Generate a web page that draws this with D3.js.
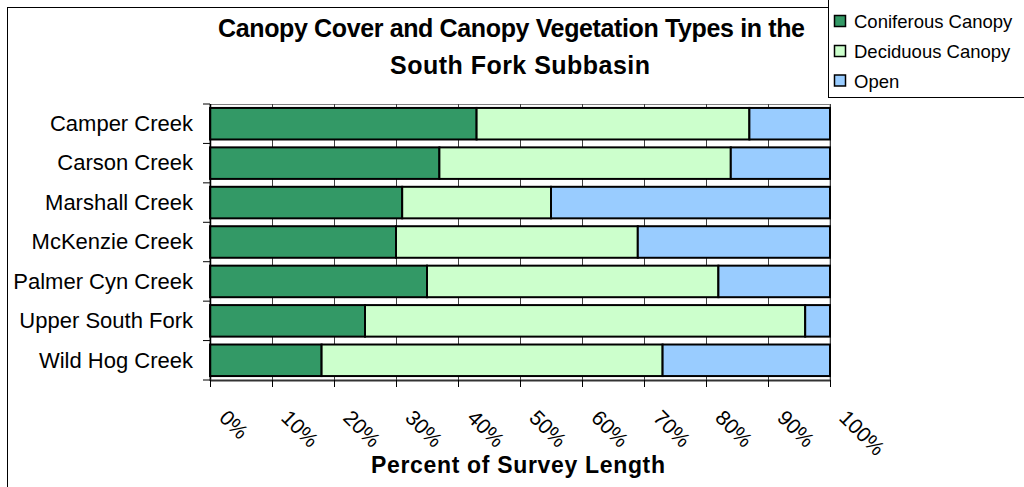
<!DOCTYPE html>
<html>
<head>
<meta charset="utf-8">
<script src="https://cdn.jsdelivr.net/npm/d3@7"></script>
<style>
  html, body { margin: 0; padding: 0; background: #fff; }
  svg { display: block; font-family: "Liberation Sans", Arial, sans-serif; }
</style>
</head>
<body>
<svg id="chart" width="1024" height="487"></svg>
<script>
// ---- data ----
const categories = ["Camper Creek", "Carson Creek", "Marshall Creek", "McKenzie Creek",
                    "Palmer Cyn Creek", "Upper South Fork", "Wild Hog Creek"];
const seriesNames = ["Coniferous Canopy", "Deciduous Canopy", "Open"];
const coniferous = [43, 37, 31, 30, 35, 25, 18];
const deciduous  = [44, 47, 24, 39, 47, 71, 55];
const open       = [13, 16, 45, 31, 18, 4, 27];
const xTicks = [0, 10, 20, 30, 40, 50, 60, 70, 80, 90, 100];
const titleLines = ["Canopy Cover and Canopy Vegetation Types in the", "South Fork Subbasin"];
const xAxisTitle = "Percent of Survey Length";

const colors = ["#339966", "#CCFFCC", "#99CCFF"];

const svg = d3.select("#chart");

// outer chart border
svg.append("rect").attr("x", 7.5).attr("y", 7.5).attr("width", 1100).attr("height", 600)
  .attr("fill", "#fff").attr("stroke", "#000").attr("stroke-width", 1);

const plot = { left: 210, right: 830, top: 104, bottom: 380 };

const x = d3.scaleLinear().domain([0, 100]).range([plot.left, plot.right]);
const y = d3.scaleBand().domain(categories).range([plot.top, plot.bottom]).paddingInner(0.2).paddingOuter(0.1);

// plot area border (gray)
svg.append("rect").attr("x", plot.left).attr("y", plot.top + 0.5)
  .attr("width", plot.right - plot.left).attr("height", plot.bottom - plot.top)
  .attr("fill", "none").attr("stroke", "#808080").attr("stroke-width", 1);

// vertical gridlines
svg.append("g").selectAll("line").data(xTicks.slice(1)).join("line")
  .attr("x1", d => Math.round(x(d)) + 0.5).attr("x2", d => Math.round(x(d)) + 0.5)
  .attr("y1", plot.top).attr("y2", plot.bottom)
  .attr("stroke", "#404040").attr("stroke-width", 1);

// stacked data
const rows = categories.map((c, i) => ({ cat: c, v: [coniferous[i], deciduous[i], open[i]] }));
const stack = d3.stack().keys([0, 1, 2]).value((d, k) => d.v[k]);
const stacked = stack(rows);

svg.append("g").selectAll("g").data(stacked).join("g")
  .attr("fill", (d, i) => colors[i])
  .selectAll("rect").data(d => d).join("rect")
  .attr("x", d => x(d[0]))
  .attr("width", d => x(d[1]) - x(d[0]))
  .attr("y", d => y(d.data.cat))
  .attr("height", y.bandwidth())
  .attr("stroke", "#000").attr("stroke-width", 2);

// left axis (category)
const bandStep = (plot.bottom - plot.top) / categories.length;
const yAxisG = svg.append("g");
yAxisG.append("line").attr("x1", plot.left + 0.5).attr("x2", plot.left + 0.5)
  .attr("y1", plot.top).attr("y2", plot.bottom + 1).attr("stroke", "#000").attr("stroke-width", 1.5);
yAxisG.selectAll("line.tick").data(d3.range(categories.length + 1)).join("line")
  .attr("class", "tick")
  .attr("x1", plot.left - 7).attr("x2", plot.left)
  .attr("y1", i => plot.top + i * bandStep).attr("y2", i => plot.top + i * bandStep)
  .attr("stroke", "#000").attr("stroke-width", 1);
yAxisG.selectAll("text").data(categories).join("text")
  .attr("x", 193)
  .attr("y", d => y(d) + y.bandwidth() / 2)
  .attr("dy", "0.33em")
  .attr("text-anchor", "end")
  .attr("font-size", 22)
  .attr("fill", "#000")
  .text(d => d);

// bottom axis
const xAxisG = svg.append("g");
xAxisG.append("line").attr("x1", plot.left).attr("x2", plot.right + 1)
  .attr("y1", plot.bottom + 0.5).attr("y2", plot.bottom + 0.5)
  .attr("stroke", "#333").attr("stroke-width", 2);
xAxisG.selectAll("line.tick").data(xTicks).join("line")
  .attr("class", "tick")
  .attr("x1", d => Math.round(x(d)) + 0.5).attr("x2", d => Math.round(x(d)) + 0.5)
  .attr("y1", plot.bottom).attr("y2", plot.bottom + 7)
  .attr("stroke", "#000").attr("stroke-width", 1);
xAxisG.selectAll("text").data(xTicks).join("text")
  .attr("transform", d => `translate(${x(d) + 8},419) rotate(45)`)
  .attr("text-anchor", "start")
  .attr("font-size", 21)
  .attr("fill", "#000")
  .text(d => d + "%");

// axis title
svg.append("text")
  .attr("x", 371).attr("y", 473)
  .attr("font-size", 23).attr("font-weight", "bold")
  .attr("textLength", 294).attr("lengthAdjust", "spacing")
  .text(xAxisTitle);

// chart title
const titlePos = [{ x: 218, y: 37, w: 587 }, { x: 390, y: 74, w: 260 }];
svg.append("g").selectAll("text").data(titleLines).join("text")
  .attr("x", (d, i) => titlePos[i].x).attr("y", (d, i) => titlePos[i].y)
  .attr("font-size", 25).attr("font-weight", "bold")
  .attr("textLength", (d, i) => titlePos[i].w).attr("lengthAdjust", "spacing")
  .text(d => d);

// legend
const leg = svg.append("g");
leg.append("rect").attr("x", 828.5).attr("y", -10).attr("width", 300).attr("height", 107.5)
  .attr("fill", "#fff").attr("stroke", "#000").attr("stroke-width", 1);
const legBase = [28, 58, 87.5];
const items = leg.selectAll("g").data(seriesNames).join("g");
items.append("rect")
  .attr("x", 834.5).attr("y", (d, i) => legBase[i] - 12.5)
  .attr("width", 11).attr("height", 11)
  .attr("fill", (d, i) => colors[i]).attr("stroke", "#000").attr("stroke-width", 1.5);
items.append("text")
  .attr("x", 854).attr("y", (d, i) => legBase[i])
  .attr("font-size", 18.5).attr("fill", "#000")
  .text(d => d);
</script>
</body>
</html>
